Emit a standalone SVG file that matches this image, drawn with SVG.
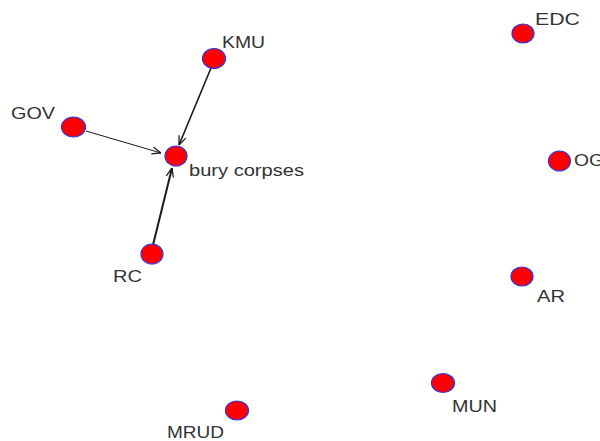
<svg xmlns="http://www.w3.org/2000/svg" width="600" height="441" viewBox="0 0 600 441">
<style>
.n{fill:#ff0000;stroke:#3333dd;stroke-width:1.2}
.t{font-family:"Liberation Sans",Arial,sans-serif;font-size:16.5px;fill:#333333}
.e{stroke:#1a1a1a;fill:none}
</style>
<defs>
<marker id="arr" viewBox="0 0 10 10" refX="10" refY="5" markerWidth="9" markerHeight="9" markerUnits="userSpaceOnUse" orient="auto">
<path d="M0,1 L10,5 L0,9" fill="none" stroke="#1a1a1a" stroke-width="1.4"/>
</marker>
</defs>
<rect width="600" height="441" fill="#ffffff"/>
<g id="connectors">
<line class="e" x1="211" y1="68" x2="179" y2="145" stroke-width="1.6" marker-end="url(#arr)"/>
<line class="e" x1="86" y1="131" x2="161" y2="153" stroke-width="1" marker-end="url(#arr)"/>
<line class="e" x1="153" y1="245" x2="172" y2="168" stroke-width="2" marker-end="url(#arr)"/>
</g>
<g id="node-KMU"><ellipse class="n" cx="214" cy="58.5" rx="11.5" ry="10"/><text class="t" x="222" y="47.5" textLength="43" lengthAdjust="spacingAndGlyphs">KMU</text></g>
<g id="node-GOV"><ellipse class="n" cx="73.5" cy="127" rx="12" ry="10"/><text class="t" x="11" y="119" textLength="44" lengthAdjust="spacingAndGlyphs">GOV</text></g>
<g id="node-bury"><ellipse class="n" cx="176" cy="156" rx="11" ry="10"/><text class="t" x="189" y="176" textLength="115" lengthAdjust="spacingAndGlyphs">bury corpses</text></g>
<g id="node-RC"><ellipse class="n" cx="152" cy="254" rx="11" ry="10"/><text class="t" x="113" y="282" textLength="29" lengthAdjust="spacingAndGlyphs">RC</text></g>
<g id="node-EDC"><ellipse class="n" cx="523" cy="33.5" rx="11" ry="9.5"/><text class="t" x="535" y="25" textLength="45" lengthAdjust="spacingAndGlyphs">EDC</text></g>
<g id="node-OG"><ellipse class="n" cx="559.5" cy="161" rx="11" ry="10"/><text class="t" x="574" y="166" textLength="30" lengthAdjust="spacingAndGlyphs">OG</text></g>
<g id="node-AR"><ellipse class="n" cx="522" cy="276.5" rx="11" ry="9.5"/><text class="t" x="537" y="301.5" textLength="28" lengthAdjust="spacingAndGlyphs">AR</text></g>
<g id="node-MRUD"><ellipse class="n" cx="237" cy="410.5" rx="11.5" ry="9.5"/><text class="t" x="167" y="438" textLength="57" lengthAdjust="spacingAndGlyphs">MRUD</text></g>
<g id="node-MUN"><ellipse class="n" cx="443" cy="383" rx="11.5" ry="9.5"/><text class="t" x="452" y="411.5" textLength="45" lengthAdjust="spacingAndGlyphs">MUN</text></g>
</svg>
